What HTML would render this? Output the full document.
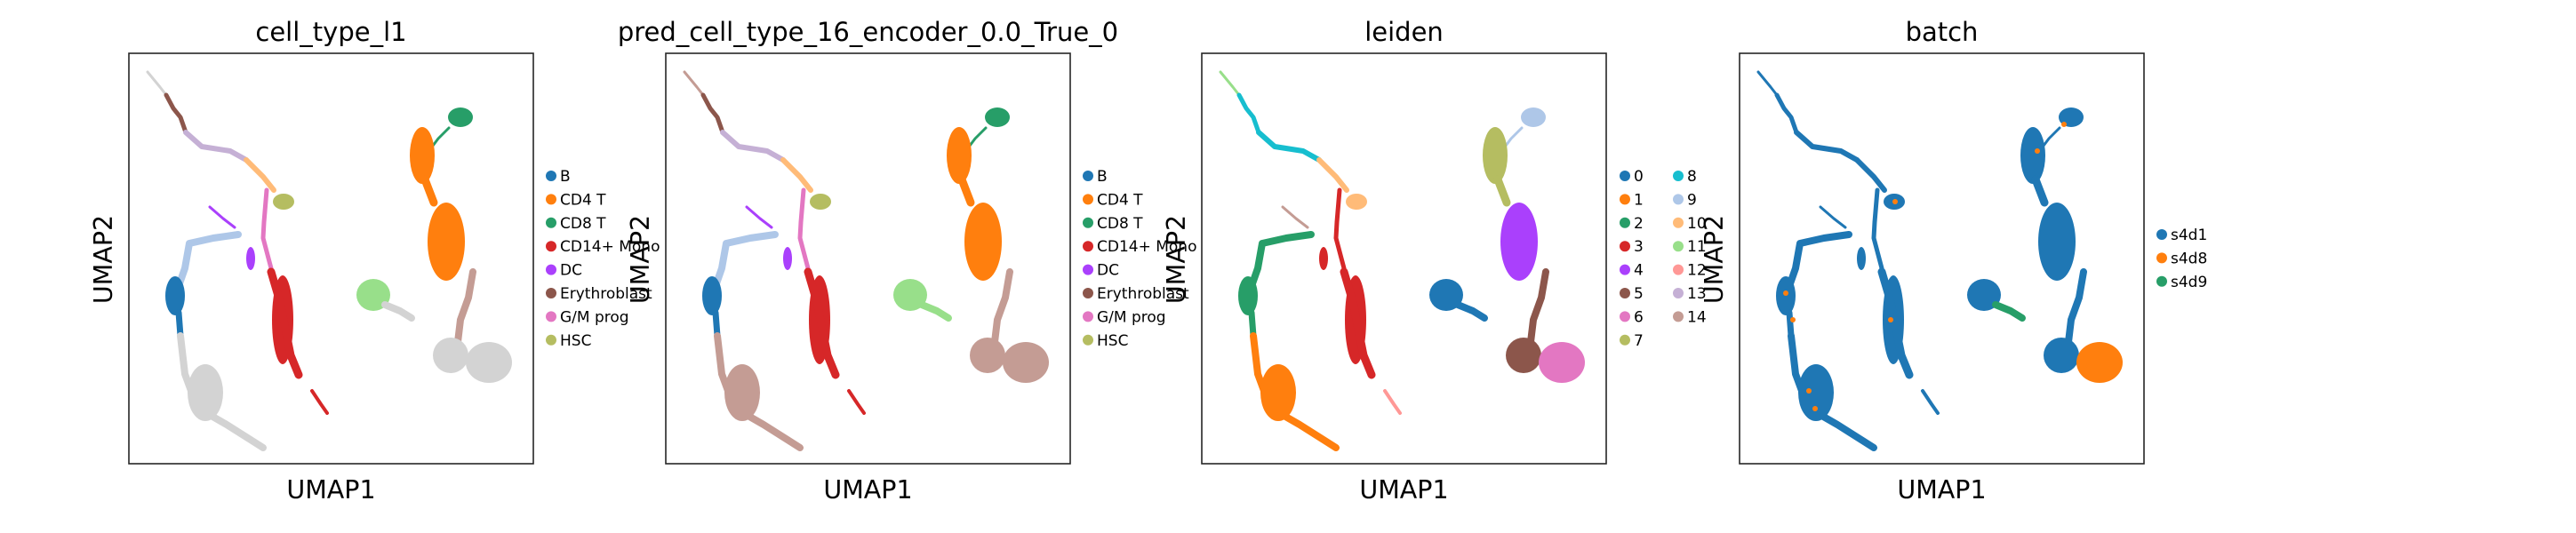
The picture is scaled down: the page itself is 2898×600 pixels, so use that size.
<!DOCTYPE html>
<html><head><meta charset="utf-8">
<style>
html,body{margin:0;padding:0;background:#fff;}
svg{display:block;font-family:"DejaVu Sans","Liberation Sans",sans-serif;}
</style></head>
<body>
<svg id="fig" width="2898" height="600" viewBox="0 0 2898 600" xmlns="http://www.w3.org/2000/svg"></svg>
<script>
// ---- data (UMAP coords, units: embedding space 0..455 x 0..462) ----
const regionNames = ["top-a","top-b","top-c","top-d","hsc-blob","gm-line","dc-line","dc-blob","lightblue-stream","b-blob","b-tail","grey-stream","grey-blob","red-blob","red-stream","red-streak","cd8-blob","cd8-streak","cd4-top","cd4-neck","cd4-bottom","lightgreen-blob","lightgreen-tail","br-stream","br-blob-left","br-blob-right"];
const regionKind = ["line","line","line","line","ell","line","line","ell","line","ell","line","line","ell","ell","line","line","ell","line","ell","line","ell","ell","line","line","ell","ell"];
const regionPts = [
 [[21,21],[35,38],[42,47]],
 [[42,47],[50,62],[58,72],[64,89]],
 [[64,89],[82,105],[114,110],[132,120]],
 [[132,120],[151,139],[163,154]],
 [[174,167,12,9]],
 [[155,154],[152,190],[151,208],[160,242]],
 [[91,173],[106,186],[119,196]],
 [[137,231,5,13]],
 [[123,204],[95,208],[68,214],[63,242],[56,262]],
 [[52,273,11,22]],
 [[56,292],[58,318]],
 [[58,318],[63,361],[77,399],[110,418],[140,437],[151,444]],
 [[86,382,20,32]],
 [[173,300,12,50]],
 [[160,246],[170,280],[182,340],[191,362]],
 [[206,380],[216,395],[223,405]],
 [[373,72,14,11]],
 [[360,84],[348,96],[342,104]],
 [[330,115,14,32]],
 [[333,142],[343,168]],
 [[357,212,21,44]],
 [[275,272,19,18]],
 [[288,283],[305,290],[318,298]],
 [[387,246],[382,275],[373,300],[370,325]],
 [[362,340,20,20]],
 [[405,348,26,23]]
];
const regionWidth = [3,5,6,6,0,5,3,0,8,0,7,8,0,0,9,4,0,3,0,9,0,0,8,8,0,0];
const cellTypeColors = ["#d3d3d3","#8c564b","#c5b0d5","#ffbb78","#b5bd61","#e377c2","#aa40fc","#aa40fc","#aec7e8","#1f77b4","#1f77b4","#d3d3d3","#d3d3d3","#d62728","#d62728","#d62728","#279e68","#279e68","#ff7f0e","#ff7f0e","#ff7f0e","#98df8a","#d3d3d3","#c49c94","#d3d3d3","#d3d3d3"];
const predColors = ["#c49c94","#8c564b","#c5b0d5","#ffbb78","#b5bd61","#e377c2","#aa40fc","#aa40fc","#aec7e8","#1f77b4","#1f77b4","#c49c94","#c49c94","#d62728","#d62728","#d62728","#279e68","#279e68","#ff7f0e","#ff7f0e","#ff7f0e","#98df8a","#98df8a","#c49c94","#c49c94","#c49c94"];
const leidenColors = ["#98df8a","#17becf","#17becf","#ffbb78","#ffbb78","#d62728","#c49c94","#d62728","#279e68","#279e68","#279e68","#ff7f0e","#ff7f0e","#d62728","#d62728","#ff9896","#aec7e8","#aec7e8","#b5bd61","#b5bd61","#aa40fc","#1f77b4","#1f77b4","#8c564b","#8c564b","#e377c2"];
const batchColors = ["#1f77b4","#1f77b4","#1f77b4","#1f77b4","#1f77b4","#1f77b4","#1f77b4","#1f77b4","#1f77b4","#1f77b4","#1f77b4","#1f77b4","#1f77b4","#1f77b4","#1f77b4","#1f77b4","#1f77b4","#1f77b4","#1f77b4","#1f77b4","#1f77b4","#1f77b4","#279e68","#1f77b4","#1f77b4","#ff7f0e"];
const panelTitles = ["cell_type_l1","pred_cell_type_16_encoder_0.0_True_0","leiden","batch"];
const cellLegend = ["B","CD4 T","CD8 T","CD14+ Mono","DC","Erythroblast","G/M prog","HSC"];
const cellLegendColors = ["#1f77b4","#ff7f0e","#279e68","#d62728","#aa40fc","#8c564b","#e377c2","#b5bd61"];
const leidenLegend = ["0","1","2","3","4","5","6","7","8","9","10","11","12","13","14"];
const leidenLegendColors = ["#1f77b4","#ff7f0e","#279e68","#d62728","#aa40fc","#8c564b","#e377c2","#b5bd61","#17becf","#aec7e8","#ffbb78","#98df8a","#ff9896","#c5b0d5","#c49c94"];
const batchLegend = ["s4d1","s4d8","s4d9"];
const batchLegendColors = ["#1f77b4","#ff7f0e","#279e68"];

// ---- layout ----
const NS="http://www.w3.org/2000/svg";
const svg=document.getElementById("fig");
const panelLeft=[145,749,1352,1957], boxW=455, boxTop=60, boxH=462;
function mk(tag,attrs,parent){const e=document.createElementNS(NS,tag);for(const k in attrs)e.setAttribute(k,attrs[k]);(parent||svg).appendChild(e);return e;}
function sx(p,v){return panelLeft[p]+v*boxW/455;}
function sy(v){return boxTop+v*boxH/462;}

const colorSets=[cellTypeColors,predColors,leidenColors,batchColors];
for(let p=0;p<4;p++){
  const g=mk("g",{});
  
  
  const cols=colorSets[p];
  for(let i=0;i<regionNames.length;i++){
    let el;
    if(regionKind[i]==="ell"){
      const [cx,cy,rx,ry]=regionPts[i][0];
      el=mk("ellipse",{cx:sx(p,cx),cy:sy(cy),rx:rx*boxW/455,ry:ry*boxH/462,fill:cols[i]},g);
    } else {
      const d=regionPts[i].map((q,j)=>(j?"L":"M")+sx(p,q[0])+" "+sy(q[1])).join(" ");
      el=mk("path",{d:d,fill:"none",stroke:cols[i],"stroke-width":regionWidth[i],"stroke-linecap":"round","stroke-linejoin":"round"},g);
    }
    
    
  }
  if(p===3){
    const spots=[[52,270],[60,300],[78,380],[85,400],[175,167],[170,300],[365,80],[335,110]];
    spots.forEach(s=>{const c=mk("circle",{cx:sx(p,s[0]),cy:sy(s[1]),r:3,fill:"#ff7f0e"},g);
      
      });
  }
  const box=mk("rect",{x:panelLeft[p],y:boxTop,width:boxW,height:boxH,fill:"none",stroke:"#262626","stroke-width":1.6});
  
  
  const t=mk("text",{x:panelLeft[p]+boxW/2,y:46,"text-anchor":"middle","font-size":29});
  t.textContent=panelTitles[p];
  
  
  const xl=mk("text",{x:panelLeft[p]+boxW/2,y:561,"text-anchor":"middle","font-size":28.5});
  xl.textContent="UMAP1";
  
  
  const yl=mk("text",{x:0,y:0,"text-anchor":"middle","font-size":28.5,transform:"translate("+(panelLeft[p]-19)+",292) rotate(-90)"});
  yl.textContent="UMAP2";
  
  
}

function legend(labels,colors,x0,y0,perCol,colGap){
  for(let i=0;i<labels.length;i++){
    const c=Math.floor(i/perCol), r=i%perCol;
    const x=x0+c*colGap, y=y0+r*26.4;
    const g=mk("g",{});
    
    
    mk("ellipse",{cx:x,cy:y,rx:6,ry:6,fill:colors[i]},g);
    const t=mk("text",{x:x+10,y:y+6,"font-size":17},g);
    t.textContent=labels[i];
  }
}
legend(cellLegend,cellLegendColors,620,198,8,0);
legend(cellLegend,cellLegendColors,1224,198,8,0);
legend(leidenLegend,leidenLegendColors,1828,198,8,60);
legend(batchLegend,batchLegendColors,2432,264,3,0);
</script>
</body></html>
